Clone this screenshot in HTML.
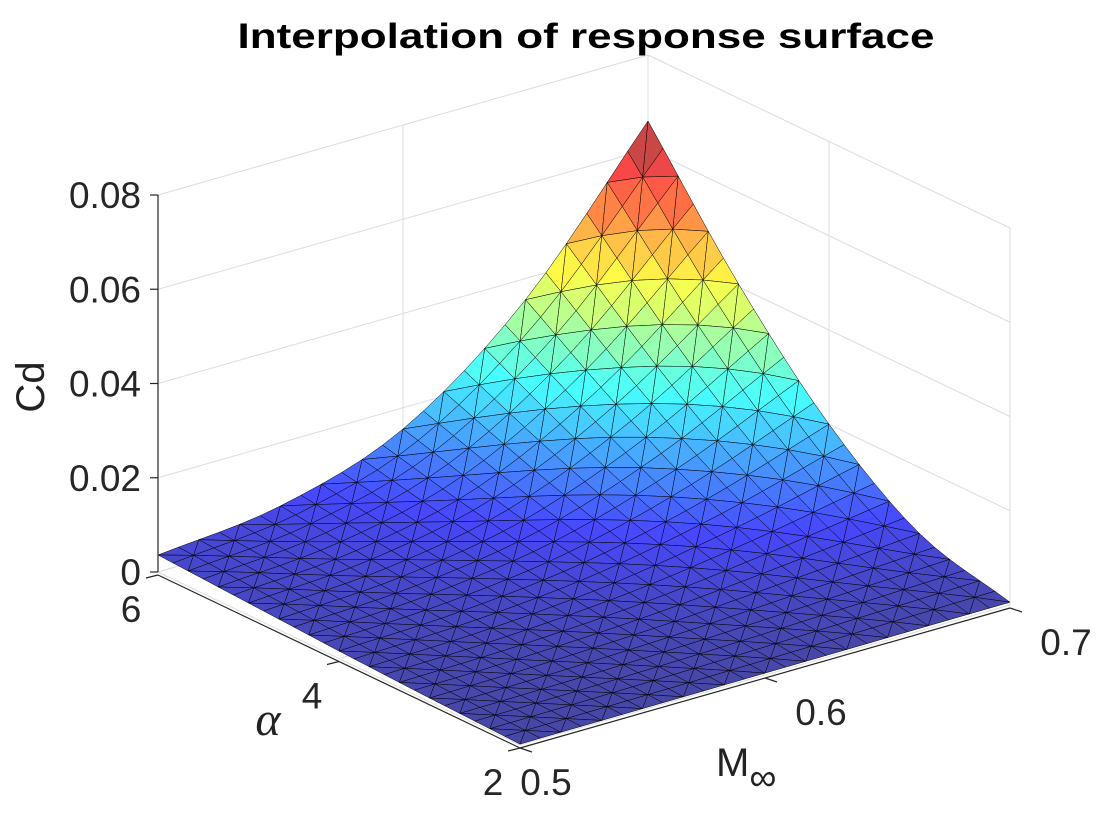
<!DOCTYPE html>
<html><head><meta charset="utf-8"><style>
html,body{margin:0;padding:0;background:#fff;}
svg{display:block;font-family:"Liberation Sans",sans-serif;}
</style></head><body>
<svg id="chart" width="1120" height="840" viewBox="0 0 1120 840">
<text x="586" y="48" font-size="35" font-weight="bold" text-anchor="middle" fill="#000" textLength="697" lengthAdjust="spacingAndGlyphs">Interpolation of response surface</text>
<g id="grid"></g>
<g id="surf"></g>
<g id="axes"></g>
<text transform="translate(44,387) rotate(-90)" font-size="40" text-anchor="middle" fill="#222">Cd</text>
<text x="268" y="735" font-size="48" font-style="italic" font-family="Liberation Serif, serif" text-anchor="middle" fill="#222">α</text>
<text x="716" y="776" font-size="40" fill="#222">M<tspan font-size="38" dy="14">∞</tspan></text>
</svg>
<script>
const alphaVals = [2, 3, 4, 5, 6];
const machVals = [0.5, 0.55, 0.6, 0.65, 0.7];
const cdRow2 = [0.0002, 0.0003, 0.0004, 0.0005, 0.0006];
const cdRow3 = [0.0008, 0.0012, 0.0022, 0.0040, 0.006];
const cdRow4 = [0.0016, 0.0026, 0.0055, 0.0115, 0.020];
const cdRow5 = [0.0026, 0.0044, 0.0100, 0.0225, 0.0406];
const cdRow6 = [0.0036, 0.0066, 0.0155, 0.0355, 0.066];
const cdGrid = [cdRow2, cdRow3, cdRow4, cdRow5, cdRow6];
const zTicks = [0, 0.02, 0.04, 0.06, 0.08];
const zTickLabels = ["0", "0.02", "0.04", "0.06", "0.08"];
const aTicks = [2, 4, 6];
const aTickLabels = ["2", "4", "6"];
const mTicks = [0.5, 0.6, 0.7];
const mTickLabels = ["0.5", "0.6", "0.7"];

const NS = "http://www.w3.org/2000/svg";
const aMin = 2, aMax = 6, mMin = 0.5, mMax = 0.7, zMax = 0.08;
const cMax = Math.max(...cdGrid.map(r => Math.max(...r)));
function P(a, m, z) {
  const ta = (a - aMin) / (aMax - aMin), tm = (m - mMin) / (mMax - mMin);
  return [520 - 362 * ta + 490 * tm, 745 - 173 * ta - 140 * tm - z * 4712.5];
}
function mk(tag, attrs, parent) {
  const e = document.createElementNS(NS, tag);
  for (const k in attrs) e.setAttribute(k, attrs[k]);
  parent.appendChild(e);
  return e;
}
function jet(v) {
  v = Math.max(0, Math.min(1, v));
  const f = x => Math.max(0, Math.min(1, 1.5 - Math.abs(4 * v - x)));
  return [f(3), f(2), f(1)];
}
// Catmull-Rom along an array at fractional index
function cr(arr, x) {
  const n = arr.length;
  let i = Math.min(Math.floor(x), n - 2);
  const t = x - i;
  const g = k => {
    if (k < 0) return 2 * arr[0] - arr[1];
    if (k >= n) return 2 * arr[n - 1] - arr[n - 2];
    return arr[k];
  };
  const p0 = g(i - 1), p1 = g(i), p2 = g(i + 1), p3 = g(i + 2);
  return 0.5 * ((2 * p1) + (-p0 + p2) * t + (2 * p0 - 5 * p1 + 4 * p2 - p3) * t * t + (-p0 + 3 * p1 - 3 * p2 + p3) * t * t * t);
}
function cdAt(ia, im) {
  const col = cdGrid.map(r => cr(r, im));
  return Math.max(0, cr(col, ia));
}
const grid = document.getElementById('grid');
const surf = document.getElementById('surf');
const axes = document.getElementById('axes');
function line(g, p, q, col, w, name) {
  const l = mk('line', {x1: p[0], y1: p[1], x2: q[0], y2: q[1], stroke: col, 'stroke-width': w}, g);
  
  
}
const gc = '#dcdcdc';
zTicks.forEach(z => {
  line(grid, P(aMax, mMin, z), P(aMax, mMax, z), gc, 1, 'z-grid-left-wall');
  line(grid, P(aMax, mMax, z), P(aMin, mMax, z), gc, 1, 'z-grid-right-wall');
});
mTicks.forEach(m => {
  line(grid, P(aMax, m, 0), P(aMax, m, zMax), gc, 1, 'm-grid-wall');
  line(grid, P(aMin, m, 0), P(aMax, m, 0), gc, 1, 'm-grid-floor');
});
aTicks.forEach(a => {
  line(grid, P(a, mMax, 0), P(a, mMax, zMax), gc, 1, 'a-grid-wall');
  line(grid, P(a, mMin, 0), P(a, mMax, 0), gc, 1, 'a-grid-floor');
});
const NA = (alphaVals.length - 1) * 6, NM = (machVals.length - 1) * 6;
const verts = [];
for (let p = 0; p <= NA; p++) {
  verts.push([]);
  for (let q = 0; q <= NM; q++) {
    const ia = p / NA * (alphaVals.length - 1), im = q / NM * (machVals.length - 1);
    const a = cr(alphaVals, ia), m = cr(machVals, im);
    verts[p].push({a, m, z: cdAt(ia, im)});
  }
}
const tris = [];
for (let p = 0; p < NA; p++) for (let q = 0; q < NM; q++) {
  const pts = [verts[p][q], verts[p + 1][q], verts[p + 1][q + 1], verts[p][q + 1]];
  const T = (p + q) % 2 === 0 ? [[0, 1, 2], [0, 2, 3]] : [[0, 1, 3], [1, 2, 3]];
  T.forEach(t => {
    const vs = t.map(k => pts[k]);
    const depth = vs.reduce((s, o) => s + (o.a - aMin) / 4 + (o.m - mMin) / 0.2, 0);
    tris.push({vs, depth});
  });
}
tris.sort((x, y) => y.depth - x.depth);
tris.forEach(t => {
  const zs = t.vs.map(o => o.z);
  const zc = (zs[0] + zs[1] + zs[2] + Math.max(...zs)) / 4;
  const c = jet(zc / cMax);
  const al = 0.72;
  const col = c.map(x => Math.round(255 * (x * al + (1 - al))));
  const pts = t.vs.map(o => P(o.a, o.m, o.z).map(n => n.toFixed(1)).join(',')).join(' ');
  const poly = mk('polygon', {points: pts, fill: `rgb(${col[0]},${col[1]},${col[2]})`, stroke: '#000', 'stroke-width': 0.5, 'stroke-linejoin': 'round'}, surf);
  
  
});
line(axes, P(aMax, mMin, 0), P(aMax, mMin, zMax), '#262626', 1.2, 'z-axis-line');
line(axes, [P(aMax, mMin, 0)[0], P(aMax, mMin, 0)[1] + 3], [P(aMin, mMin, 0)[0], P(aMin, mMin, 0)[1] + 3], '#262626', 1.2, 'alpha-axis-line');
line(axes, [P(aMin, mMin, 0)[0], P(aMin, mMin, 0)[1] + 3], [P(aMin, mMax, 0)[0], P(aMin, mMax, 0)[1] + 3], '#262626', 1.2, 'mach-axis-line');
zTicks.forEach((z, k) => {
  const p = P(aMax, mMin, z);
  line(axes, p, [p[0] - 8, p[1]], '#262626', 1.2, 'z-tick');
  const t = mk('text', {x: 141, y: p[1] + 13, 'font-size': 37, 'text-anchor': 'end', fill: '#262626'}, axes);
  t.textContent = zTickLabels[k];
  
  
});
aTicks.forEach((a, k) => {
  const p = P(a, mMin, 0);
  line(axes, [p[0], p[1] + 3], [p[0] - 12, p[1] + 6], '#262626', 1.2, 'alpha-tick');
  const t = mk('text', {x: p[0] - 27, y: p[1] + 50, 'font-size': 37, 'text-anchor': 'middle', fill: '#262626'}, axes);
  t.textContent = aTickLabels[k];
  
  
});
mTicks.forEach((m, k) => {
  const p = P(aMin, m, 0);
  line(axes, [p[0], p[1] + 3], [p[0] + 12, p[1] + 7], '#262626', 1.2, 'mach-tick');
  const dx = k === 0 ? 26 : 56;
  const t = mk('text', {x: p[0] + dx, y: p[1] + 50, 'font-size': 37, 'text-anchor': 'middle', fill: '#262626'}, axes);
  t.textContent = mTickLabels[k];
  
  
});
</script>
</body></html>
